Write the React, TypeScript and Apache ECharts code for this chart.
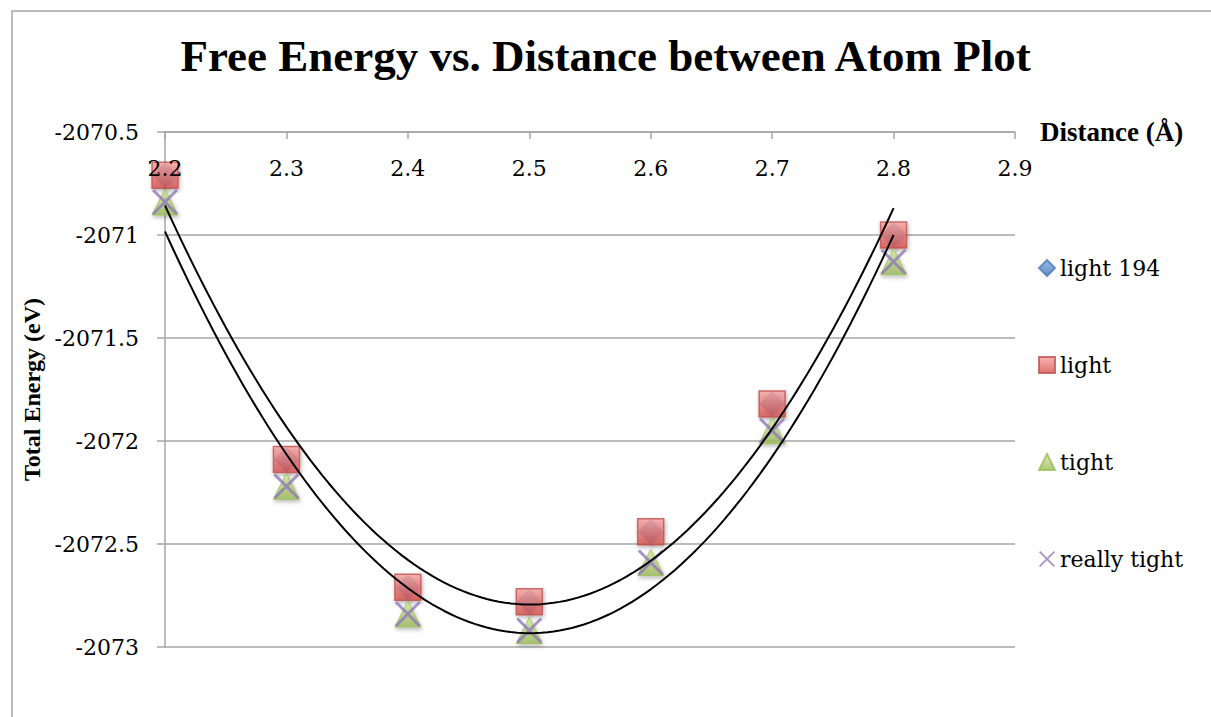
import React, { useEffect, useRef } from "react";
import * as echarts from "echarts";

const xValues = [2.2, 2.3, 2.4, 2.5, 2.6, 2.7, 2.8];
const light194 = [-2070.71, -2072.09, -2072.71, -2072.78, -2072.44, -2071.82, -2071.0];
const light = [-2070.71, -2072.09, -2072.71, -2072.78, -2072.44, -2071.82, -2071.0];
const tight = [-2070.84, -2072.22, -2072.84, -2072.92, -2072.59, -2071.95, -2071.13];
const reallyTight = [-2070.84, -2072.22, -2072.84, -2072.92, -2072.59, -2071.95, -2071.13];
const legendNames = ["light 194", "light", "tight", "really tight"];
const titleText = "Free Energy vs. Distance between Atom Plot";
const xAxisName = "Distance (Å)";
const yAxisName = "Total Energy (eV)";

// least-squares 2nd order polynomial (Excel-style trendline)
function quadFit(xs: number[], ys: number[]) {
  const n = xs.length;
  const mx = xs.reduce((a, b) => a + b, 0) / n;
  let s2 = 0, s3 = 0, s4 = 0, sy = 0, sxy = 0, sx2y = 0;
  xs.forEach((x0, i) => {
    const x = x0 - mx;
    const y = ys[i];
    s2 += x * x; s3 += x * x * x; s4 += x * x * x * x;
    sy += y; sxy += x * y; sx2y += x * x * y;
  });
  const M = [
    [n, 0, s2, sy],
    [0, s2, s3, sxy],
    [s2, s3, s4, sx2y],
  ];
  for (let i = 0; i < 3; i++) {
    for (let k = i + 1; k < 3; k++) {
      const f = M[k][i] / M[i][i];
      for (let j = i; j < 4; j++) M[k][j] -= f * M[i][j];
    }
  }
  const c = M[2][3] / M[2][2];
  const b = (M[1][3] - M[1][2] * c) / M[1][1];
  const a = (M[0][3] - M[0][2] * c - M[0][1] * b) / M[0][0];
  return (x: number) => {
    const t = x - mx;
    return a + b * t + c * t * t;
  };
}

function trend(ys: number[]) {
  const f = quadFit(xValues, ys);
  const x0 = xValues[0];
  const x1 = xValues[xValues.length - 1];
  const steps = 120;
  const pts: number[][] = [];
  for (let i = 0; i <= steps; i++) {
    const x = x0 + ((x1 - x0) * i) / steps;
    pts.push([x, f(x)]);
  }
  return pts;
}

const pairs = (ys: number[]) => xValues.map((x, i) => [x, ys[i]]);

const X_PATH = "path://M0,0.8L0.8,0L10,9.2L9.2,10ZM9.2,0L10,0.8L0.8,10L0,9.2Z";
const SERIF = "DejaVu Serif";
const BOLD_SERIF = "Liberation Serif";

const grad = (top: string, bottom: string) =>
  new echarts.graphic.LinearGradient(0, 0, 0, 1, [
    { offset: 0, color: top },
    { offset: 1, color: bottom },
  ]);

const shadow = {
  shadowBlur: 4,
  shadowOffsetY: 2,
  shadowOffsetX: 1,
  shadowColor: "rgba(0,0,0,0.35)",
};

export default function App() {
  const ref = useRef<HTMLDivElement>(null);
  useEffect(() => {
    if (!ref.current) return;
    const chart = echarts.init(ref.current, undefined, { renderer: "svg" });
    const axisGray = "#a6a6a6";
    chart.setOption({
      animation: false,
      backgroundColor: "#ffffff",
      title: {
        text: titleText,
        left: "center",
        top: 28,
        textStyle: {
          fontFamily: BOLD_SERIF,
          fontWeight: "bold",
          fontSize: 45,
          color: "#000",
        },
      },
      graphic: [
        {
          type: "rect",
          shape: { x: 12, y: 11, width: 1400, height: 900 },
          style: { fill: "none", stroke: axisGray, lineWidth: 1.5 },
          silent: true,
          z: -10,
        },
      ],
      legend: {
        data: legendNames,
        orient: "vertical",
        left: 1038,
        top: 257,
        padding: 0,
        itemWidth: 16,
        itemHeight: 16,
        itemGap: 75,
        textStyle: { fontFamily: SERIF, fontSize: 22, color: "#000" },
      },
      grid: { left: 165, top: 132, right: 1211 - 1015, bottom: 717 - 647, containLabel: false },
      xAxis: {
        type: "value",
        position: "top",
        z: 10,
        min: 2.2,
        max: 2.9,
        interval: 0.1,
        name: xAxisName,
        nameLocation: "end",
        nameGap: 25,
        nameTextStyle: {
          fontFamily: BOLD_SERIF,
          fontWeight: "bold",
          fontSize: 27,
          color: "#000",
          verticalAlign: "middle",
        },
        axisLine: { show: true, onZero: false, lineStyle: { color: axisGray, width: 1.5 } },
        axisTick: { show: true, inside: true, length: 7, lineStyle: { color: axisGray, width: 1.5 } },
        axisLabel: {
          inside: true,
          margin: 25,
          fontFamily: SERIF,
          fontSize: 22,
          color: "#000",
          formatter: (v: number) => v.toFixed(1),
        },
        splitLine: { show: false },
      },
      yAxis: {
        type: "value",
        min: -2073,
        max: -2070.5,
        interval: 0.5,
        name: yAxisName,
        nameLocation: "middle",
        nameGap: 116,
        nameRotate: 90,
        nameTextStyle: {
          fontFamily: BOLD_SERIF,
          fontWeight: "bold",
          fontSize: 24,
          color: "#000",
        },
        axisLine: { show: true, lineStyle: { color: axisGray, width: 1.5 } },
        axisTick: { show: true, inside: false, length: 8, lineStyle: { color: axisGray, width: 1.5 } },
        axisLabel: {
          margin: 26,
          fontFamily: SERIF,
          fontSize: 22,
          color: "#000",
          formatter: (v: number) => String(v),
        },
        splitLine: { show: true, lineStyle: { color: axisGray, width: 1.5 } },
      },
      series: [
        {
          name: "light 194",
          type: "scatter",
          symbol: "diamond",
          symbolSize: 24,
          data: pairs(light194),
          itemStyle: { color: grad("#7ea6dc", "#3f73b5"), borderColor: "#4a7ebb", borderWidth: 1, ...shadow },
          z: 2,
        },
        {
          name: "light",
          type: "scatter",
          symbol: "rect",
          symbolSize: 26,
          data: pairs(light),
          itemStyle: { color: grad("#f6a4a2", "#d6514e"), borderColor: "#c0504d", borderWidth: 1.5, ...shadow },
          z: 3,
        },
        {
          name: "tight",
          type: "scatter",
          symbol: "triangle",
          symbolSize: 26,
          data: pairs(tight),
          itemStyle: { color: grad("#d3e6a0", "#9bbb59"), borderColor: "#9bbb59", borderWidth: 1, ...shadow },
          z: 4,
        },
        {
          name: "really tight",
          type: "scatter",
          symbol: X_PATH,
          symbolSize: 26,
          data: pairs(reallyTight),
          itemStyle: { color: "#9079b8" },
          z: 5,
        },
        {
          name: "trend light",
          type: "line",
          data: trend(light),
          showSymbol: false,
          symbol: "none",
          lineStyle: { color: "#000", width: 2 },
          z: 6,
          silent: true,
        },
        {
          name: "trend tight",
          type: "line",
          data: trend(tight),
          showSymbol: false,
          symbol: "none",
          lineStyle: { color: "#000", width: 2 },
          z: 6,
          silent: true,
        },
      ],
    });
    return () => chart.dispose();
  }, []);
  return (
    <div
      ref={ref}
      style={{ position: "fixed", left: 0, top: 0, width: 1211, height: 717, background: "#fff" }}
    />
  );
}
